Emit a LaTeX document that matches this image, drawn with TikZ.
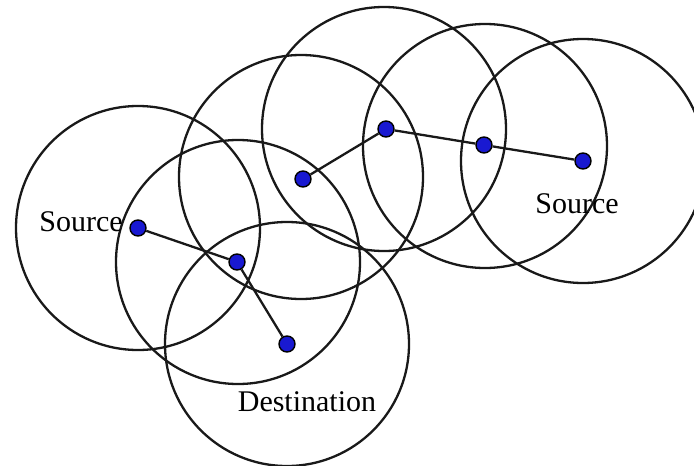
\documentclass[tikz,border=0pt]{standalone}
\usepackage{fontspec}
\setmainfont{Liberation Serif}
\begin{document}
\begin{tikzpicture}[x=1pt,y=-1pt,
  hop/.style={circle,draw=black,fill=blue!80!black!90,line width=1.4pt,inner sep=0pt,minimum size=16pt},
  rangecircle/.style={draw=black!90,line width=2.3pt},
  link/.style={draw=black!90,line width=2.3pt},
  lbl/.style={font=\fontsize{30}{32}\selectfont,inner sep=0pt}]
\useasboundingbox (0,0) rectangle (694,466);
\clip (0,0) rectangle (694,466);
\coordinate (cA) at (138,228);
\coordinate (cB) at (238,262);
\coordinate (cC) at (287,344);
\coordinate (cD) at (301,177);
\coordinate (cE) at (384,129);
\coordinate (cF) at (485,146);
\coordinate (cG) at (583,161);
\foreach \c in {cA,cB,cC,cD,cE,cF,cG}
  \draw[rangecircle] (\c) circle[radius=122];
\node[hop] (s1) at (138,228) {};
\node[hop] (n2) at (237,262) {};
\node[hop] (d) at (287,344) {};
\node[hop] (n4) at (303,179) {};
\node[hop] (n5) at (386,129) {};
\node[hop] (n6) at (484,145) {};
\node[hop] (s2) at (583,161) {};
\draw[link] (s1) -- (n2);
\draw[link] (n2) -- (d);
\draw[link] (n4) -- (n5);
\draw[link] (n5) -- (n6);
\draw[link] (n6) -- (s2);
\node[lbl] (t1) at (81,222) {Source};
\node[lbl] (t2) at (577,204) {Source};
\node[lbl] (t3) at (307,402) {Destination};
\end{tikzpicture}
\end{document}
